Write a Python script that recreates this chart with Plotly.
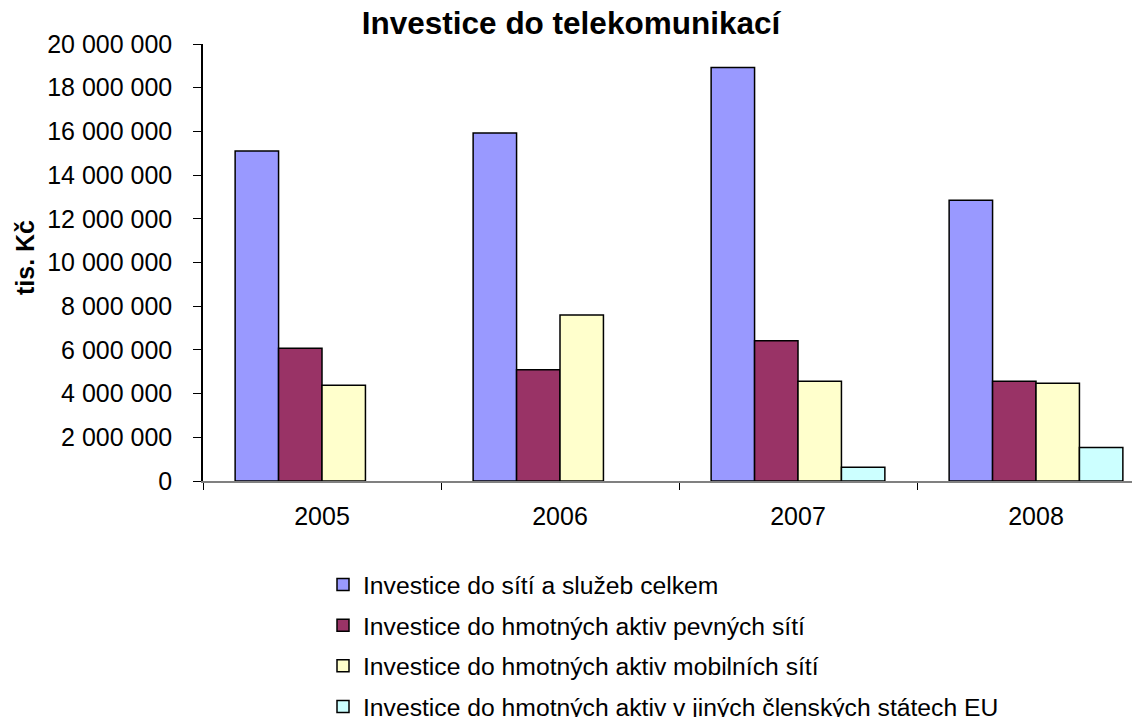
import plotly.graph_objects as go

years = ["2005", "2006", "2007", "2008"]
series_names = [
    "Investice do sítí a služeb celkem",
    "Investice do hmotných aktiv pevných sítí",
    "Investice do hmotných aktiv mobilních sítí",
    "Investice do hmotných aktiv v jiných členských státech EU",
]
celkem = [15100000, 15930000, 18930000, 12850000]
pevne = [6070000, 5090000, 6420000, 4560000]
mobilni = [4380000, 7600000, 4560000, 4470000]
jine_eu = [None, None, 630000, 1530000]
colors = ["#9999FF", "#993366", "#FFFFCC", "#CCFFFF"]

FONT = "Liberation Sans, Arial, sans-serif"

fig = go.Figure()
for i, (name, vals) in enumerate(zip(series_names, [celkem, pevne, mobilni, jine_eu])):
    fig.add_trace(go.Bar(
        x=years, y=vals, name=name, legendgroup=f"g{i}",
        marker=dict(color=colors[i], line=dict(color="black", width=1.5)),
    ))

# the page body has an 8px margin, so figure coordinates = screen - 8
W, H = 1140, 717
L, R, T, B = 195, 0, 36, 244
PW = W - L - R
PH = H - T - B

fig.update_layout(
    width=W, height=H,
    margin=dict(l=L, r=R, t=T, b=B, pad=0, autoexpand=False),
    paper_bgcolor="white", plot_bgcolor="white",
    barmode="group", bargap=0.27, bargroupgap=0,
    separators=", ",
    font=dict(family=FONT, size=25, color="black"),
    title=dict(text="<b>Investice do telekomunikací</b>", xref="container", x=563 / W,
               xanchor="center", yref="container", y=1 - 14.5 / H, yanchor="middle",
               font=dict(size=31.5, family=FONT, color="black")),
    legend=dict(xref="container", yref="container", x=315 / W, xanchor="left",
                y=1 - 554 / H, yanchor="top",
                orientation="v", tracegroupgap=5.5, font=dict(size=24.7, family=FONT),
                bgcolor="rgba(0,0,0,0)", itemwidth=30),
    showlegend=True,
)
fig.update_xaxes(
    type="category", range=[-0.5, -0.5 + PW / 238], showline=True, linecolor="#808080", linewidth=1.5,
    ticks="outside", tickson="boundaries", ticklen=7, tickcolor="black", tickwidth=1,
    showgrid=False, zeroline=False, tickfont=dict(size=25), ticklabelstandoff=12,
)
fig.update_yaxes(
    range=[0, 20000000], dtick=2000000, tickformat=",d", showline=True, linecolor="black",
    linewidth=1.5, ticks="outside", ticklen=8, tickcolor="black", showgrid=False,
    zeroline=False, tickfont=dict(size=25), ticklabelstandoff=16,
)
fig.add_annotation(text="<b>tis. Kč</b>", textangle=-90, xref="paper", yref="paper",
                   x=(17 - L) / PW, y=(T + PH - 250) / PH, xanchor="center", yanchor="middle",
                   showarrow=False, font=dict(size=25, family=FONT, color="black"))

fig.write_html("out.html")
